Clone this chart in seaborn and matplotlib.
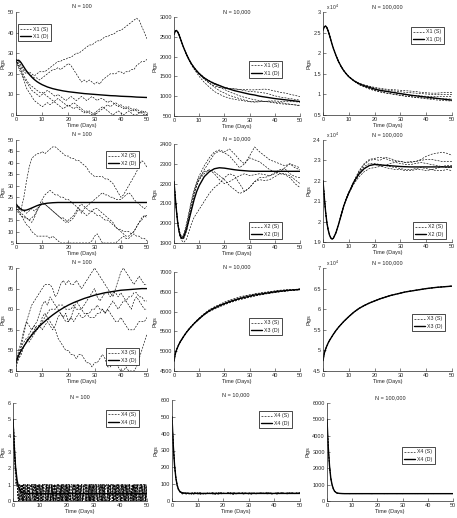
"""Stochastic (S) vs deterministic (D) pig counts, 4 compartments x 3 population sizes."""
import pandas as pd
import matplotlib
matplotlib.use("Agg")
import matplotlib.pyplot as plt
import seaborn as sns
from matplotlib.lines import Line2D
from matplotlib.ticker import FuncFormatter, MultipleLocator

sns.set_style("ticks")
plt.rcParams['font.family'] = ['Liberation Sans', 'DejaVu Sans']

# ── time grids ───────────────────────────────────────────────────────────
T_DAY = list(range(51))
T_FINE = [0, 0.5, 1, 1.5, 2, 2.5, 3, 3.5, 4, 5, 6, 7, 8, 9, 10, 12, 14, 16, 18, 20,
          22, 24, 26, 28, 30, 32, 34, 36, 38, 40, 42, 44, 46, 48, 50]
T_HALF = [i / 2 for i in range(101)]
T_X4 = [0, 0.5, 1, 1.5, 2, 2.5, 3] + list(range(4, 51))

# ── X1 ───────────────────────────────────────────────────────────────────
X1_100_D = [26, 26.5, 26.6, 26.1, 25.3, 24.3, 23.3, 22.3, 21.4, 19.8, 18.4, 17.2, 16.2, 15.4,
            14.7, 13.6, 12.8, 12.2, 11.7, 11.3, 11.0, 10.7, 10.4, 10.2, 10.0, 9.8, 9.6, 9.4,
            9.3, 9.1, 9.0, 8.9, 8.7, 8.6, 8.5]
X1_100_S = [
    [27, 25, 23, 21, 20, 21, 20, 19, 20, 21, 21, 21, 22, 23, 24, 25, 26, 26, 27, 27, 28, 28, 29,
     30, 30, 31, 32, 33, 34, 34, 35, 36, 36, 37, 38, 38, 39, 39, 40, 41, 41, 42, 43, 44, 45, 46,
     47, 46, 43, 40, 37],
    [27, 26, 24, 22, 21, 20, 19, 18, 18, 17, 18, 19, 20, 21, 22, 22, 23, 22, 23, 24, 25, 24, 22,
     20, 18, 16, 17, 16, 17, 16, 15, 16, 15, 17, 18, 19, 20, 20, 20, 21, 21, 20, 21, 21, 22, 22,
     24, 25, 26, 26, 27],
    [27, 24, 21, 18, 16, 14, 12, 11, 10, 9, 10, 11, 12, 11, 10, 9, 10, 9, 8, 7, 8, 9, 8, 7, 8, 9,
     8, 7, 8, 9, 8, 7, 8, 8, 7, 6, 7, 6, 5, 4, 5, 4, 3, 4, 3, 2, 3, 2, 1, 2, 1],
    [26, 23, 20, 17, 13, 11, 9, 7, 6, 5, 4, 5, 6, 5, 6, 7, 8, 7, 6, 5, 4, 5, 6, 5, 4, 3, 2, 1, 2,
     1, 0, 1, 2, 3, 4, 5, 4, 5, 6, 5, 4, 3, 4, 3, 2, 3, 2, 1, 1, 0, 0],
    [27, 24, 22, 19, 17, 15, 14, 13, 12, 11, 11, 10, 9, 8, 7, 6, 5, 4, 3, 4, 5, 4, 3, 4, 3, 2, 1,
     2, 1, 0, 1, 2, 3, 4, 3, 2, 1, 0, 1, 2, 1, 0, 1, 2, 1, 0, 0, 1, 2, 1, 0],
]
X1_10K_D = [2560, 2640, 2660, 2620, 2550, 2460, 2370, 2280, 2200, 2050, 1920, 1810, 1720, 1640,
            1570, 1460, 1380, 1320, 1270, 1220, 1180, 1140, 1110, 1080, 1050, 1030, 1000, 980,
            960, 940, 925, 910, 895, 880, 865]
X1_10K_S = [
    [2560, 2645, 2665, 2625, 2555, 2465, 2375, 2285, 2205, 2055, 1925, 1815, 1720, 1640, 1560,
     1440, 1330, 1260, 1220, 1200, 1190, 1180, 1170, 1170, 1160, 1160, 1170, 1180, 1160, 1130,
     1100, 1080, 1050, 1020, 990],
    [2560, 2635, 2655, 2615, 2545, 2455, 2365, 2275, 2195, 2045, 1915, 1805, 1715, 1645, 1580,
     1470, 1390, 1330, 1270, 1220, 1200, 1190, 1170, 1140, 1120, 1110, 1100, 1080, 1050, 1010,
     980, 960, 940, 920, 900],
    [2560, 2640, 2660, 2620, 2550, 2460, 2370, 2280, 2195, 2040, 1900, 1780, 1680, 1590, 1500,
     1350, 1230, 1120, 1050, 990, 950, 920, 900, 880, 860, 850, 860, 870, 860, 850, 840, 820,
     800, 780, 760],
    [2560, 2642, 2662, 2622, 2552, 2462, 2372, 2282, 2200, 2050, 1915, 1800, 1700, 1620, 1550,
     1430, 1330, 1230, 1140, 1080, 1020, 980, 940, 900, 870, 860, 860, 870, 880, 880, 870, 860,
     860, 860, 850],
    [2560, 2638, 2658, 2618, 2548, 2458, 2368, 2278, 2200, 2052, 1922, 1812, 1722, 1645, 1570,
     1460, 1380, 1300, 1230, 1170, 1110, 1060, 1010, 970, 940, 910, 890, 870, 850, 830, 810,
     800, 790, 780, 770],
]
X1_100K_D = [25600, 26400, 26600, 26200, 25400, 24400, 23300, 22200, 21200, 19500, 18000, 16800,
             15800, 15000, 14300, 13300, 12600, 12100, 11700, 11300, 11000, 10800, 10600, 10400,
             10200, 10000, 9800, 9650, 9500, 9350, 9200, 9050, 8900, 8750, 8600]
X1_100K_S = [
    [25600, 26420, 26620, 26220, 25420, 24420, 23320, 22220, 21220, 19520, 18020, 16820, 15830,
     15040, 14340, 13350, 12700, 12300, 12000, 11700, 11500, 11300, 11200, 11100, 11000, 10900,
     10800, 10700, 10500, 10400, 10300, 10300, 10400, 10500, 10500],
    [25600, 26380, 26580, 26180, 25380, 24380, 23280, 22180, 21180, 19480, 17980, 16780, 15790,
     15010, 14320, 13330, 12650, 12200, 11900, 11550, 11300, 11100, 10950, 10800, 10650, 10500,
     10400, 10300, 10200, 10100, 10000, 10000, 10000, 10000, 10000],
    [25600, 26400, 26600, 26200, 25400, 24400, 23300, 22200, 21200, 19500, 18000, 16790, 15800,
     14990, 14290, 13290, 12500, 12000, 11600, 11200, 10950, 10750, 10550, 10350, 10150, 9950,
     9800, 9700, 9600, 9550, 9500, 9500, 9500, 9500, 9500],
    [25600, 26410, 26610, 26210, 25410, 24410, 23310, 22210, 21210, 19510, 18010, 16810, 15810,
     14990, 14280, 13270, 12400, 11900, 11400, 11000, 10700, 10400, 10200, 10000, 9800, 9600,
     9450, 9300, 9200, 9100, 9000, 8950, 8900, 8900, 8900],
    [25600, 26390, 26590, 26190, 25390, 24390, 23290, 22190, 21190, 19490, 17990, 16790, 15790,
     14980, 14270, 13260, 12350, 11800, 11300, 10900, 10600, 10350, 10150, 9950, 9750, 9550,
     9400, 9250, 9100, 8950, 8800, 8650, 8550, 8450, 8400],
]

# ── X2 ───────────────────────────────────────────────────────────────────
X2_100_D = [22, 21.3, 20.6, 20.1, 19.7, 19.4, 19.3, 19.3, 19.4, 19.8, 20.3, 20.8, 21.3, 21.7,
            22.0, 22.4, 22.6, 22.7, 22.7, 22.7, 22.7, 22.7, 22.7, 22.7, 22.7, 22.7, 22.7, 22.7,
            22.7, 22.7, 22.7, 22.7, 22.7, 22.7, 22.7]
X2_100_S = [
    [22, 21, 20, 25, 32, 38, 42, 43, 44, 44, 45, 44, 45, 46, 47, 47, 46, 45, 44, 43, 43, 42, 42,
     41, 41, 40, 39, 38, 36, 35, 34, 34, 34, 34, 33, 33, 32, 31, 29, 27, 25, 26, 28, 30, 32, 34,
     36, 39, 41, 40, 38],
    [21, 19, 18, 17, 16, 15, 14, 16, 19, 22, 24, 26, 27, 28, 27, 26, 26, 25, 25, 24, 24, 23, 22,
     21, 20, 18, 20, 21, 22, 23, 24, 25, 26, 27, 26, 26, 25, 25, 24, 24, 24, 25, 26, 27, 26, 24,
     23, 22, 21, 20, 21],
    [20, 19, 17, 15, 13, 12, 10, 9, 8, 8, 8, 8, 8, 7, 8, 7, 6, 5, 5, 5, 5, 5, 5, 5, 5, 5, 5, 5, 5,
     6, 8, 9, 7, 5, 5, 5, 5, 5, 5, 6, 7, 8, 7, 7, 8, 9, 8, 8, 7, 7, 6],
    [20, 18, 17, 16, 16, 15, 16, 17, 19, 21, 23, 22, 21, 20, 19, 18, 17, 16, 15, 14, 15, 16, 17,
     19, 21, 22, 21, 20, 19, 19, 18, 17, 17, 16, 15, 15, 14, 13, 12, 11, 11, 10, 10, 10, 9, 10,
     12, 14, 15, 17, 16],
    [21, 20, 19, 19, 18, 19, 20, 19, 20, 21, 22, 22, 21, 20, 19, 18, 17, 16, 16, 15, 14, 15, 16,
     18, 20, 19, 18, 17, 18, 19, 20, 20, 19, 18, 17, 16, 15, 14, 12, 11, 10, 9, 8, 8, 9, 10, 12,
     14, 16, 17, 17],
]
X2_10K_D = [2210, 2130, 2060, 2000, 1960, 1935, 1925, 1925, 1935, 1970, 2020, 2070, 2120, 2160,
            2190, 2235, 2260, 2275, 2280, 2278, 2274, 2270, 2267, 2265, 2263, 2262, 2262, 2262,
            2262, 2262, 2262, 2262, 2262, 2262, 2262]
X2_10K_S = [
    [2210, 2130, 2060, 2000, 1960, 1935, 1930, 1935, 1950, 2000, 2060, 2120, 2170, 2210, 2240,
     2290, 2330, 2360, 2370, 2360, 2375, 2350, 2320, 2300, 2340, 2385, 2360, 2340, 2320, 2310,
     2300, 2290, 2300, 2280, 2270],
    [2210, 2135, 2065, 2005, 1965, 1940, 1925, 1920, 1925, 1960, 2020, 2080, 2140, 2190, 2220,
     2270, 2310, 2350, 2365, 2355, 2340, 2310, 2280, 2300, 2330, 2320, 2310, 2290, 2270, 2260,
     2250, 2250, 2240, 2220, 2200],
    [2210, 2130, 2055, 1995, 1955, 1930, 1915, 1905, 1905, 1920, 1960, 2000, 2030, 2050, 2070,
     2110, 2150, 2180, 2200, 2230, 2250, 2240, 2200, 2160, 2180, 2210, 2220, 2215, 2220, 2235,
     2250, 2245, 2230, 2200, 2180],
    [2210, 2135, 2060, 2000, 1960, 1930, 1920, 1920, 1930, 1980, 2040, 2100, 2150, 2190, 2220,
     2250, 2270, 2260, 2240, 2220, 2190, 2170, 2150, 2160, 2180, 2210, 2230, 2230, 2240, 2255,
     2270, 2275, 2250, 2235, 2230],
    [2210, 2130, 2065, 2010, 1970, 1945, 1935, 1935, 1945, 1990, 2050, 2110, 2160, 2200, 2230,
     2260, 2270, 2250, 2220, 2200, 2210, 2225, 2240, 2250, 2240, 2245, 2250, 2245, 2240, 2250,
     2260, 2280, 2300, 2290, 2280],
]
X2_100K_D = [22000, 21200, 20500, 19950, 19600, 19350, 19200, 19150, 19180, 19450, 19850, 20300,
             20750, 21100, 21400, 21950, 22350, 22600, 22750, 22800, 22780, 22760, 22740, 22720,
             22700, 22690, 22680, 22680, 22680, 22680, 22680, 22680, 22680, 22680, 22680]
X2_100K_S = [
    [22000, 21210, 20510, 19960, 19610, 19360, 19210, 19160, 19190, 19470, 19880, 20330, 20790,
     21150, 21450, 22000, 22500, 22850, 23050, 23100, 23150, 23100, 23000, 22950, 22950, 22900,
     22900, 22950, 23050, 23200, 23300, 23350, 23400, 23350, 23250],
    [22000, 21190, 20490, 19940, 19590, 19340, 19190, 19140, 19170, 19440, 19840, 20290, 20740,
     21100, 21420, 21950, 22450, 22800, 23000, 23050, 23000, 23150, 23100, 23000, 22950, 22900,
     22950, 22950, 23000, 23050, 23050, 23000, 22950, 22950, 22950],
    [22000, 21200, 20500, 19950, 19600, 19350, 19200, 19150, 19180, 19450, 19850, 20300, 20760,
     21120, 21430, 21950, 22400, 22700, 22850, 22850, 22800, 22750, 22700, 22650, 22600, 22550,
     22550, 22600, 22650, 22600, 22550, 22600, 22700, 22750, 22750],
    [22000, 21205, 20505, 19955, 19605, 19355, 19205, 19155, 19185, 19460, 19860, 20310, 20760,
     21100, 21400, 21900, 22300, 22600, 22750, 22800, 22750, 22650, 22600, 22550, 22550, 22500,
     22500, 22550, 22550, 22500, 22550, 22500, 22500, 22550, 22500],
    [22000, 21195, 20495, 19945, 19595, 19345, 19195, 19145, 19175, 19440, 19840, 20290, 20730,
     21080, 21380, 21850, 22200, 22450, 22600, 22650, 22700, 22750, 22850, 22900, 22850, 22800,
     22800, 22850, 22900, 22850, 22800, 22750, 22700, 22650, 22650],
]

# ── X3 ───────────────────────────────────────────────────────────────────
X3_100_D = [47, 48, 48.8, 49.4, 50, 50.5, 51, 51.5, 52, 52.9, 53.7, 54.5, 55.2, 55.9, 56.5,
            57.6, 58.6, 59.5, 60.3, 61, 61.6, 62.1, 62.6, 63, 63.4, 63.7, 64, 64.2, 64.4, 64.6,
            64.7, 64.8, 64.9, 65, 65]
X3_100_S = [
    [47, 49, 51, 54, 57, 59, 61, 62, 63, 64, 65, 66, 66, 66, 65, 63, 64, 66, 67, 66, 67, 66, 66,
     67, 66, 65, 66, 67, 68, 69, 70, 69, 68, 67, 66, 65, 64, 63, 65, 67, 69, 70, 69, 68, 67, 66,
     67, 68, 67, 66, 66],
    [47, 50, 52, 55, 57, 56, 55, 56, 57, 59, 61, 62, 61, 63, 62, 61, 60, 59, 58, 57, 57, 58, 60,
     62, 61, 60, 61, 62, 63, 64, 65, 63, 62, 63, 64, 64, 63, 64, 64, 63, 64, 63, 62, 61, 60, 62,
     63, 62, 61, 60, 60],
    [46, 48, 50, 51, 52, 54, 55, 56, 55, 56, 58, 59, 58, 57, 56, 55, 53, 52, 51, 50, 50, 49, 49,
     48, 49, 49, 48, 47, 47, 46, 47, 47, 48, 49, 48, 46, 46, 47, 47, 46, 45, 45, 46, 45, 45, 45,
     46, 48, 50, 52, 54],
    [47, 48, 49, 51, 52, 53, 54, 55, 56, 56, 55, 56, 57, 56, 55, 56, 58, 59, 58, 59, 57, 58, 57,
     58, 59, 58, 58, 59, 58, 58, 58, 59, 59, 60, 59, 60, 59, 58, 57, 57, 58, 57, 56, 55, 55, 55,
     56, 57, 57, 57, 58],
    [47, 49, 51, 52, 53, 52, 53, 54, 55, 56, 57, 58, 59, 60, 60, 60, 61, 61, 61, 60, 60, 60, 61,
     60, 60, 60, 59, 59, 59, 60, 60, 61, 60, 60, 59, 60, 61, 62, 61, 60, 61, 62, 62, 63, 63, 64,
     64, 63, 63, 62, 62],
]
X3_10K_D = [4750, 4930, 5030, 5110, 5180, 5240, 5290, 5340, 5390, 5480, 5560, 5630, 5700, 5760,
            5820, 5930, 6020, 6090, 6150, 6200, 6250, 6290, 6330, 6360, 6390, 6420, 6440, 6460,
            6480, 6500, 6515, 6530, 6540, 6550, 6560]
X3_10K_S = [
    [4750, 4935, 5040, 5120, 5190, 5250, 5300, 5350, 5400, 5490, 5570, 5640, 5710, 5780, 5840,
     5950, 6050, 6120, 6180, 6240, 6290, 6330, 6370, 6400, 6420, 6450, 6470, 6490, 6500, 6520,
     6530, 6540, 6550, 6560, 6570],
    [4750, 4925, 5025, 5105, 5175, 5235, 5285, 5335, 5385, 5475, 5555, 5625, 5695, 5755, 5815,
     5925, 6010, 6080, 6130, 6180, 6230, 6270, 6310, 6340, 6370, 6400, 6420, 6450, 6470, 6490,
     6500, 6520, 6530, 6540, 6560],
    [4750, 4930, 5035, 5115, 5185, 5245, 5295, 5345, 5395, 5485, 5565, 5635, 5705, 5770, 5830,
     5940, 6030, 6100, 6160, 6210, 6270, 6310, 6350, 6390, 6420, 6440, 6460, 6480, 6500, 6520,
     6540, 6550, 6555, 6560, 6575],
    [4750, 4928, 5028, 5108, 5178, 5238, 5288, 5338, 5388, 5478, 5558, 5628, 5698, 5750, 5810,
     5915, 6000, 6060, 6120, 6170, 6220, 6260, 6300, 6330, 6360, 6390, 6420, 6440, 6460, 6480,
     6500, 6510, 6530, 6540, 6550],
    [4750, 4932, 5032, 5112, 5182, 5242, 5292, 5342, 5392, 5482, 5562, 5632, 5702, 5765, 5825,
     5935, 6025, 6095, 6145, 6200, 6245, 6285, 6320, 6350, 6380, 6410, 6430, 6450, 6470, 6490,
     6505, 6520, 6535, 6550, 6560],
]
X3_100K_D = [47500, 49300, 50300, 51100, 51800, 52400, 52900, 53400, 53900, 54800, 55600, 56300,
             57000, 57600, 58200, 59300, 60200, 60900, 61500, 62000, 62500, 62900, 63300, 63600,
             63900, 64200, 64400, 64600, 64800, 65000, 65150, 65300, 65400, 65500, 65600]
X3_100K_S = [
    [47500, 49320, 50330, 51120, 51830, 52420, 52930, 53420, 53930, 54830, 55630, 56330, 57030,
     57650, 58250, 59350, 60260, 60960, 61560, 62060, 62560, 62960, 63360, 63650, 63950, 64250,
     64450, 64640, 64840, 65040, 65180, 65330, 65430, 65530, 65630],
    [47500, 49280, 50280, 51080, 51780, 52380, 52880, 53380, 53880, 54780, 55580, 56280, 56980,
     57570, 58160, 59250, 60140, 60840, 61440, 61940, 62440, 62840, 63240, 63540, 63840, 64150,
     64350, 64560, 64760, 64960, 65110, 65270, 65370, 65470, 65570],
    [47500, 49300, 50310, 51100, 51810, 52410, 52900, 53410, 53910, 54800, 55610, 56310, 57000,
     57610, 58210, 59320, 60210, 60920, 61510, 62010, 62510, 62920, 63310, 63620, 63920, 64210,
     64420, 64610, 64810, 65010, 65160, 65310, 65410, 65520, 65620],
]

# ── X4 ───────────────────────────────────────────────────────────────────
X4_100_D = [5, 3.2, 2.0, 1.3, 0.9, 0.7, 0.58, 0.52, 0.49, 0.47, 0.46, 0.45, 0.45, 0.45, 0.45,
            0.45, 0.45, 0.45, 0.45, 0.45, 0.45, 0.45, 0.45, 0.45, 0.45, 0.45, 0.45, 0.45, 0.45,
            0.45, 0.45, 0.45, 0.45, 0.45, 0.45]
# one digit per half day (0..50)
X4_100_S = [
    "5321" "0110100101" "1001011010" "0101101001" "1010010110" "0110101001"
    "1001010110" "0101100101" "1010011010" "0110010101" "1001101",
    "5421" "1010110100" "0101001011" "1101010010" "0010110101" "1010100110"
    "0110101001" "1001011010" "0101010110" "1011001010" "0101100",
    "5321" "0101011010" "1010100101" "0110010110" "1101001010" "0101010101"
    "1010110010" "0110100101" "1001010101" "0101101011" "0010101",
    "5311" "1001010110" "0110101001" "1010010101" "0101101010" "1001011001"
    "0101010110" "1010100101" "0110110010" "1001010101" "1010010",
    "5321" "0010101101" "1101010010" "0101010101" "1010101010" "0110010101"
    "1001101010" "0101011001" "1010100110" "0101010101" "0110101",
]
X4_10K_D = [500, 330, 212, 138, 95, 70, 58, 52, 49, 47, 46, 45, 45, 45, 45, 45, 45, 45, 45, 45,
            45, 45, 45, 45, 45, 45, 45, 45, 45, 45, 45, 45, 45, 45, 45]
X4_10K_S = [
    [500, 335, 215, 140, 95, 70, 57,
     50, 44, 47, 41, 46, 52, 43, 39, 45, 48, 42, 47, 51, 44, 40, 46, 49, 43, 45, 50,
     47, 42, 44, 48, 53, 46, 41, 45, 49, 44, 47, 50, 43, 46, 48, 42, 45, 51, 47, 44,
     46, 49, 45, 43, 48, 50, 46],
    [500, 325, 210, 135, 92, 68, 55,
     41, 46, 49, 45, 38, 44, 47, 50, 43, 41, 45, 48, 44, 39, 46, 50, 47, 43, 45, 42,
     38, 44, 49, 46, 43, 47, 45, 40, 44, 48, 46, 43, 49, 52, 45, 41, 46, 44, 48, 50,
     45, 42, 47, 49, 44, 46, 52],
    [500, 330, 220, 145, 98, 72, 58,
     47, 43, 40, 45, 49, 46, 42, 44, 47, 43, 49, 45, 41, 47, 50, 46, 43, 45, 48, 44,
     50, 47, 43, 46, 41, 45, 49, 47, 44, 42, 48, 45, 43, 47, 50, 46, 44, 41, 45, 49,
     47, 44, 50, 46, 43, 45, 48],
    [500, 340, 212, 138, 90, 66, 54,
     44, 48, 45, 42, 47, 44, 49, 46, 41, 44, 46, 43, 47, 45, 48, 42, 44, 46, 51, 47,
     44, 46, 48, 45, 43, 47, 44, 49, 45, 43, 45, 48, 46, 42, 44, 47, 45, 48, 43, 46,
     44, 47, 45, 49, 46, 44, 47],
]
X4_100K_D = [5000, 3300, 2150, 1400, 1000, 750, 600, 530, 490, 465, 455, 450, 450, 450, 450,
             450, 450, 450, 450, 450, 450, 450, 450, 450, 450, 450, 450, 450, 450, 450, 450,
             450, 450, 450, 450]
X4_100K_S = [
    [5000, 3310, 2160, 1410, 1000, 750, 600,
     480, 462, 455, 448, 452, 446, 458, 451, 444, 456, 449, 453, 460, 447, 442, 455,
     450, 446, 458, 452, 445, 451, 457, 449, 443, 454, 461, 448, 452, 446, 455, 450,
     444, 457, 451, 447, 459, 453, 446, 450, 456, 448, 452, 445, 458, 451, 447],
    [5000, 3290, 2140, 1395, 995, 745, 598,
     478, 458, 451, 453, 447, 455, 449, 442, 454, 450, 446, 457, 452, 444, 451, 459,
     447, 453, 449, 443, 455, 450, 446, 458, 452, 447, 444, 456, 451, 448, 453, 445,
     457, 450, 446, 452, 458, 449, 444, 455, 450, 447, 453, 459, 446, 451, 455],
    [5000, 3300, 2150, 1400, 1002, 752, 602,
     482, 460, 449, 456, 450, 444, 452, 457, 448, 446, 453, 449, 455, 450, 445, 452,
     448, 456, 451, 447, 449, 455, 452, 447, 453, 450, 446, 451, 456, 449, 447, 452,
     450, 455, 448, 446, 451, 454, 449, 452, 447, 453, 450, 448, 455, 449, 452],
]

# ── panel layout: (var, title, rect px (left, top, w, h), t_s, S, t_d, D, ylim, ystep, legend, sci)
PANELS = [
    ('X1', 'N = 100', (16, 12, 131, 103), T_DAY, X1_100_S, T_FINE, X1_100_D, (0, 50), 10, (0.015, 0.88), False),
    ('X1', 'N = 10,000', (174, 17, 126, 99), T_FINE, X1_10K_S, T_FINE, X1_10K_D, (500, 3000), 500, (0.595, 0.556), False),
    ('X1', 'N = 100,000', (323, 12, 129, 103), T_FINE, X1_100K_S, T_FINE, X1_100K_D, (5000, 30000), 5000, (0.682, 0.854), True),
    ('X2', 'N = 100', (16, 140, 131, 103), T_DAY, X2_100_S, T_FINE, X2_100_D, (5, 50), 5, (0.687, 0.893), False),
    ('X2', 'N = 10,000', (174, 144, 126, 99), T_FINE, X2_10K_S, T_FINE, X2_10K_D, (1900, 2400), 100, (0.595, 0.212), False),
    ('X2', 'N = 100,000', (323, 140, 129, 102), T_FINE, X2_100K_S, T_FINE, X2_100K_D, (19000, 24000), 1000, (0.698, 0.196), True),
    ('X3', 'N = 100', (16, 268, 131, 103), T_DAY, X3_100_S, T_FINE, X3_100_D, (45, 70), 5, (0.687, 0.223), False),
    ('X3', 'N = 10,000', (174, 272, 126, 99), T_FINE, X3_10K_S, T_FINE, X3_10K_D, (4500, 7000), 500, (0.595, 0.535), False),
    ('X3', 'N = 100,000', (323, 268, 129, 103), T_FINE, X3_100K_S, T_FINE, X3_100K_D, (45000, 70000), 5000, (0.69, 0.553), True),
    ('X4', 'N = 100', (13, 403, 134, 98), T_HALF, X4_100_S, T_FINE, X4_100_D, (0, 6), 1, (0.694, 0.929), False),
    ('X4', 'N = 10,000', (172, 400, 128, 101), T_X4, X4_10K_S, T_FINE, X4_10K_D, (0, 600), 100, (0.68, 0.891), False),
    ('X4', 'N = 100,000', (327, 403, 126, 98), T_X4, X4_100K_S, T_FINE, X4_100K_D, (0, 6000), 1000, (0.595, 0.551), False),
]

W, H = 457, 518
FS = 4
DASH = (0, (3, 2))

fig = plt.figure(figsize=(W / 100, H / 100), dpi=100)
fig.patch.set_facecolor('white')

for var, title, (l, t, w, h), t_s, paths, t_d, det, ylim, ystep, leg, sci in PANELS:
    ax = fig.add_axes([l / W, 1 - (t + h) / H, w / W, h / H])
    rows = []
    for k, p in enumerate(paths):
        vals = [int(c) for c in p] if isinstance(p, str) else p
        rows += [(x, v, k) for x, v in zip(t_s, vals)]
    stoch = pd.DataFrame(rows, columns=['t', 'pigs', 'run'])
    sns.lineplot(data=stoch, x='t', y='pigs', units='run', estimator=None, sort=False,
                 color='k', lw=0.45, linestyle=DASH, ax=ax, legend=False)
    sns.lineplot(x=t_d, y=det, color='k', lw=1.0, ax=ax, legend=False)

    ax.set_xlim(0, 50)
    ax.set_ylim(*ylim)
    ax.xaxis.set_major_locator(MultipleLocator(10))
    ax.yaxis.set_major_locator(MultipleLocator(ystep))
    if sci:
        ax.yaxis.set_major_formatter(FuncFormatter(lambda v, _: f'{v / 1e4:g}'))
        ax.text(0.02, 1.0, r'x 10$^4$', transform=ax.transAxes, fontsize=FS - 0.5,
                ha='left', va='bottom')
    ax.tick_params(labelsize=FS, direction='in', length=2, width=0.4, pad=1.5)
    for s in ('top', 'right'):
        ax.spines[s].set_visible(False)
    for s in ('left', 'bottom'):
        ax.spines[s].set_linewidth(0.5)
    ax.set_xlabel('Time (Days)', fontsize=FS, labelpad=1)
    ax.set_ylabel('Pigs', fontsize=FS, labelpad=1.5)
    ax.set_title(title, fontsize=FS, pad=3)

    handles = [Line2D([], [], color='k', lw=0.45, linestyle=DASH),
               Line2D([], [], color='k', lw=1.0)]
    lg = ax.legend(handles, [f'{var} (S)', f'{var} (D)'], loc='upper left',
                   bbox_to_anchor=leg, fontsize=FS - 0.2, frameon=True, fancybox=False,
                   edgecolor='k', framealpha=1, handlelength=2.0, handletextpad=0.4,
                   borderpad=0.45, labelspacing=0.45, borderaxespad=0)
    lg.get_frame().set_linewidth(0.5)

plt.savefig('out.png', dpi=100)
plt.close()
